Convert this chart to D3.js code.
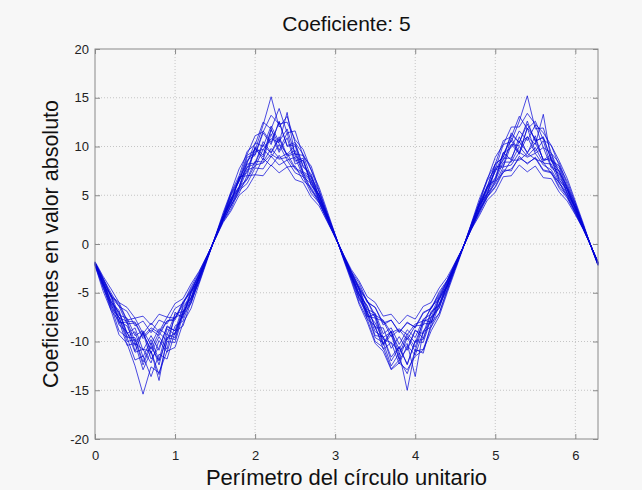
<!DOCTYPE html>
<html>
<head>
<meta charset="utf-8">
<script src="https://cdn.jsdelivr.net/npm/d3@7"></script>
<style>
  html, body { margin: 0; padding: 0; background: #f7f7f7; }
  svg { display: block; font-family: "Liberation Sans", Arial, sans-serif; }
</style>
</head>
<body>
<div id="chart"></div>
<script>
// x samples along the unit circle perimeter
const xs = [0.0, 0.1, 0.2, 0.3, 0.4, 0.5, 0.6, 0.7, 0.8, 0.9,
  1.0, 1.1, 1.2, 1.3, 1.4, 1.5, 1.6, 1.7, 1.8, 1.9,
  2.0, 2.1, 2.2, 2.3, 2.4, 2.5, 2.6, 2.7, 2.8, 2.9,
  3.0, 3.1, 3.2, 3.3, 3.4, 3.5, 3.6, 3.7, 3.8, 3.9,
  4.0, 4.1, 4.2, 4.3, 4.4, 4.5, 4.6, 4.7, 4.8, 4.9,
  5.0, 5.1, 5.2, 5.3, 5.4, 5.5, 5.6, 5.7, 5.8, 5.9,
  6.0, 6.1, 6.2, 6.2832];

const xTicks = [0, 1, 2, 3, 4, 5, 6];
const yTicks = [-20, -15, -10, -5, 0, 5, 10, 15, 20];

// one curve per realisation
const s1 = [-2.0, -4.2, -5.2, -8.1, -8.0, -11.0, -9.0, -11.2, -9.5, -10.8, -7.0, -7.6, -4.9, -3.6, -1.4, 0.6, 2.8, 4.1, 6.9, 7.0, 9.9, 8.6, 11.3, 9.4, 10.9, 8.2, 8.6, 6.0, 5.0, 2.7, 0.8, -1.2, -3.3, -4.6, -7.5, -7.2, -10.2, -8.9, -11.3, -9.4, -10.6, -7.8, -8.0, -5.5, -4.3, -2.1, -0.3, 1.8, 3.5, 6.0, 6.5, 9.4, 8.6, 11.0, 9.3, 11.1, 8.5, 8.9, 6.5, 5.6, 3.5, 1.7, -0.3, -2.0];
const s2 = [-2.1, -4.0, -6.6, -7.5, -10.0, -9.8, -12.4, -10.5, -12.0, -9.6, -9.8, -7.0, -6.0, -3.5, -1.5, 0.6, 2.7, 5.0, 6.4, 8.9, 9.2, 11.6, 10.4, 12.5, 10.1, 10.4, 8.0, 7.2, 4.8, 3.0, 0.8, -1.3, -3.2, -5.6, -7.0, -9.4, -9.5, -12.0, -10.6, -12.3, -10.0, -10.1, -7.6, -6.6, -4.2, -2.3, -0.3, 1.8, 4.1, 5.8, 8.2, 8.9, 11.4, 10.4, 12.6, 10.5, 11.0, 8.6, 7.8, 5.6, 3.8, 1.8, -0.3, -2.1];
const s3 = [-1.9, -3.6, -5.3, -6.0, -7.8, -7.6, -9.2, -8.1, -9.0, -7.5, -7.6, -5.9, -4.8, -3.1, -1.3, 0.6, 2.4, 4.0, 5.2, 7.0, 7.1, 8.8, 8.0, 9.1, 7.9, 8.0, 6.5, 5.8, 4.2, 2.6, 0.8, -1.1, -2.9, -4.3, -6.0, -6.5, -8.3, -7.8, -9.1, -8.0, -8.6, -7.1, -6.6, -5.1, -3.8, -2.1, -0.3, 1.6, 3.3, 4.9, 5.9, 7.6, 7.5, 9.0, 8.2, 8.9, 7.6, 7.4, 5.9, 4.9, 3.3, 1.6, -0.3, -1.9];
const s4 = [-2.2, -4.5, -6.4, -8.9, -9.6, -11.9, -11.5, -13.6, -11.3, -11.8, -9.0, -8.4, -5.9, -3.9, -1.6, 0.7, 3.0, 5.3, 7.0, 9.5, 10.2, 12.5, 11.8, 13.9, 11.4, 11.6, 9.0, 8.0, 5.5, 3.2, 0.9, -1.4, -3.6, -6.0, -7.7, -10.0, -10.6, -12.8, -11.9, -13.3, -11.0, -10.8, -8.5, -7.1, -4.8, -2.5, -0.3, 2.0, 4.3, 6.7, 8.2, 10.6, 11.0, 13.1, 11.8, 12.6, 10.7, 10.1, 8.0, 6.4, 4.2, 1.9, -0.3, -2.2];
const s5 = [-1.8, -3.3, -4.6, -6.0, -6.5, -7.6, -7.4, -8.3, -7.2, -7.5, -6.1, -5.6, -4.1, -2.8, -1.2, 0.5, 2.2, 3.4, 5.0, 5.7, 7.1, 7.0, 8.1, 7.3, 7.9, 6.6, 6.3, 4.8, 3.9, 2.3, 0.7, -1.0, -2.6, -3.8, -5.4, -6.0, -7.4, -7.2, -8.2, -7.3, -7.7, -6.4, -6.0, -4.5, -3.4, -1.9, -0.3, 1.5, 2.9, 4.5, 5.3, 6.9, 7.0, 8.1, 7.4, 8.0, 6.8, 6.7, 5.3, 4.4, 3.0, 1.5, -0.3, -1.8];
const s6 = [-2.0, -3.8, -6.2, -7.0, -9.5, -9.0, -11.6, -9.8, -11.9, -8.7, -9.3, -6.5, -5.6, -3.3, -1.5, 0.6, 2.7, 4.3, 6.8, 7.3, 10.0, 9.1, 11.8, 9.6, 11.4, 8.5, 8.8, 6.1, 5.1, 2.7, 0.8, -1.2, -3.4, -4.8, -7.4, -7.6, -10.4, -9.3, -11.8, -9.6, -11.0, -8.2, -8.1, -5.7, -4.4, -2.2, -0.3, 1.7, 4.0, 5.2, 7.9, 8.0, 10.9, 9.4, 11.9, 9.5, 10.6, 7.9, 7.5, 5.2, 3.8, 1.7, -0.3, -2.0];
const s7 = [-1.9, -3.9, -5.2, -7.3, -7.6, -9.4, -8.9, -10.3, -8.7, -9.3, -7.2, -6.9, -4.8, -3.3, -1.3, 0.6, 2.5, 4.3, 5.6, 7.6, 7.9, 9.7, 8.9, 10.2, 8.6, 8.9, 6.9, 6.2, 4.4, 2.7, 0.8, -1.1, -3.0, -4.5, -6.7, -7.1, -9.2, -8.6, -10.3, -8.8, -9.6, -7.7, -7.2, -5.4, -4.0, -2.1, -0.3, 1.6, 3.5, 5.1, 6.5, 8.4, 8.4, 10.0, 9.0, 9.9, 8.3, 8.2, 6.3, 5.2, 3.4, 1.6, -0.3, -1.9];
const s8 = [-2.1, -4.3, -6.8, -7.9, -10.4, -10.2, -12.9, -11.0, -13.4, -10.0, -10.1, -7.3, -6.1, -3.7, -1.5, 0.7, 2.9, 5.2, 6.7, 9.1, 9.6, 12.2, 15.1, 12.0, 13.1, 10.4, 9.2, 7.6, 5.3, 3.1, 0.9, -1.3, -3.5, -5.7, -7.2, -9.6, -10.1, -12.5, -11.2, -15.0, -10.8, -11.2, -8.1, -7.1, -4.6, -2.5, -0.3, 2.0, 4.2, 6.5, 7.7, 10.2, 10.5, 12.6, 15.2, 11.8, 11.9, 9.3, 8.3, 6.1, 4.1, 1.9, -0.3, -2.1];
const s9 = [-1.9, -3.5, -5.0, -6.4, -6.9, -8.4, -7.9, -9.1, -7.8, -8.2, -6.6, -6.1, -4.4, -2.9, -1.2, 0.5, 2.3, 3.6, 5.5, 6.2, 7.8, 7.7, 9.0, 8.1, 8.6, 7.3, 6.9, 5.2, 4.2, 2.4, 0.7, -1.0, -2.8, -4.0, -5.9, -6.5, -8.1, -7.8, -9.0, -8.1, -8.5, -7.0, -6.6, -4.9, -3.7, -1.9, -0.3, 1.5, 3.1, 4.8, 5.8, 7.4, 7.7, 8.8, 8.3, 8.8, 7.5, 7.3, 5.7, 4.7, 3.1, 1.5, -0.3, -1.9];
const s10 = [-2.0, -3.7, -6.0, -6.8, -9.2, -8.6, -10.9, -9.4, -10.9, -8.4, -8.9, -6.3, -5.5, -3.2, -1.4, 0.6, 2.5, 4.6, 5.8, 8.2, 8.3, 10.5, 9.4, 11.0, 9.1, 9.6, 7.3, 6.6, 4.5, 2.9, 0.8, -1.2, -3.0, -5.2, -6.3, -8.6, -8.6, -10.7, -9.5, -10.9, -8.9, -9.2, -6.9, -6.2, -3.9, -2.3, -0.3, 1.7, 3.9, 5.1, 7.6, 7.9, 10.2, 9.3, 11.0, 9.3, 9.9, 7.8, 7.2, 5.1, 3.7, 1.7, -0.3, -2.0];
const s11 = [-2.2, -4.8, -6.8, -9.3, -10.2, -12.5, -15.4, -12.6, -13.2, -11.0, -10.6, -8.1, -6.6, -4.1, -1.7, 0.7, 3.2, 5.4, 7.7, 9.2, 11.1, 11.5, 13.2, 12.3, 12.5, 10.7, 9.7, 7.6, 5.8, 3.4, 1.0, -1.5, -3.8, -6.2, -8.0, -10.2, -11.0, -12.9, -12.2, -12.9, -11.5, -10.9, -8.9, -7.4, -5.0, -2.7, -0.4, 2.1, 4.6, 6.6, 8.9, 10.2, 12.0, 12.0, 13.4, 12.3, 11.4, 10.1, 8.5, 6.7, 4.4, 2.1, -0.4, -2.2];
const s12 = [-1.9, -3.6, -5.4, -6.4, -8.2, -8.1, -9.7, -8.8, -9.4, -7.9, -7.8, -6.0, -4.9, -3.1, -1.3, 0.6, 2.4, 3.9, 5.8, 6.7, 8.5, 8.4, 9.8, 8.8, 9.3, 7.8, 7.3, 5.6, 4.5, 2.5, 0.7, -1.1, -2.8, -4.7, -5.8, -7.6, -7.9, -9.5, -8.8, -9.8, -8.4, -8.3, -6.4, -5.7, -3.7, -2.1, -0.3, 1.6, 3.3, 5.1, 6.2, 7.9, 8.1, 9.4, 8.9, 9.3, 8.1, 7.6, 6.2, 5.0, 3.2, 1.6, -0.3, -1.9];
const s13 = [-2.1, -4.1, -6.3, -7.5, -9.6, -9.6, -12.1, -10.2, -12.4, -9.3, -9.6, -6.9, -5.8, -3.5, -1.5, 0.6, 2.8, 4.7, 6.5, 8.6, 9.1, 11.4, 10.2, 12.6, 10.0, 10.2, 7.9, 7.0, 4.9, 3.0, 0.9, -1.3, -3.3, -5.5, -6.9, -9.0, -9.5, -11.6, -10.5, -12.4, -9.9, -9.8, -7.5, -6.5, -4.3, -2.4, -0.3, 1.8, 4.0, 5.8, 7.4, 9.3, 9.9, 11.6, 10.6, 12.2, 9.9, 9.3, 7.3, 5.9, 3.9, 1.8, -0.3, -2.1];
const s14 = [-2.0, -4.0, -5.5, -7.6, -7.9, -10.0, -9.2, -10.8, -9.1, -9.9, -7.5, -7.2, -5.0, -3.5, -1.4, 0.6, 2.6, 4.4, 5.8, 7.9, 8.2, 10.2, 9.3, 10.8, 9.0, 9.3, 7.2, 6.4, 4.6, 2.8, 0.8, -1.2, -3.1, -4.6, -6.9, -7.4, -9.6, -9.0, -10.8, -9.2, -10.1, -8.0, -7.5, -5.6, -4.2, -2.2, -0.3, 1.7, 3.6, 5.4, 6.7, 8.8, 8.8, 10.5, 9.4, 10.4, 8.7, 8.6, 6.6, 5.4, 3.6, 1.7, -0.3, -2.0];
const s15 = [-2.0, -4.0, -5.9, -7.0, -9.1, -10.4, -9.1, -11.8, -10.6, -8.5, -8.9, -7.3, -5.1, -3.5, -1.4, 0.6, 2.7, 4.7, 5.9, 8.4, 9.8, 8.9, 11.7, 10.3, 9.2, 10.1, 7.4, 6.9, 4.6, 2.9, 0.8, -1.2, -3.2, -5.2, -6.4, -8.6, -10.3, -9.0, -11.9, -10.7, -8.8, -9.7, -7.0, -6.3, -4.1, -2.3, -0.3, 1.7, 3.8, 5.7, 6.8, 9.3, 10.6, 9.2, 11.9, 10.8, 8.6, 9.2, 6.8, 5.7, 3.6, 1.7, -0.3, -2.0];
const s16 = [-2.1, -4.4, -6.1, -8.3, -9.0, -11.1, -10.8, -12.2, -9.9, -11.1, -8.4, -7.9, -5.6, -3.9, -1.5, 0.7, 2.8, 5.1, 6.6, 8.3, 10.4, 10.0, 12.1, 10.5, 11.8, 9.2, 9.1, 6.8, 5.4, 3.0, 0.9, -1.3, -3.5, -5.2, -7.7, -8.4, -10.8, -10.1, -12.3, -10.4, -11.4, -9.0, -8.5, -6.2, -4.7, -2.4, -0.3, 1.9, 4.2, 5.9, 8.2, 8.9, 11.2, 10.4, 12.3, 10.6, 10.9, 8.6, 8.0, 5.8, 4.1, 1.9, -0.3, -2.1];
const s17 = [-1.9, -3.5, -5.3, -6.2, -7.9, -8.0, -9.5, -8.6, -9.1, -7.9, -7.6, -6.2, -4.6, -3.1, -1.3, 0.5, 2.4, 3.9, 5.6, 6.6, 8.1, 8.3, 9.2, 8.7, 8.9, 7.7, 7.1, 5.5, 4.3, 2.5, 0.7, -1.1, -2.8, -4.5, -5.8, -7.3, -7.8, -9.1, -8.7, -9.3, -8.2, -7.9, -6.6, -5.3, -3.8, -2.0, -0.3, 1.5, 3.4, 4.8, 6.4, 7.3, 8.6, 8.6, 9.3, 8.7, 8.4, 7.2, 6.3, 4.8, 3.3, 1.5, -0.3, -1.9];
const s18 = [-2.0, -4.1, -5.8, -7.9, -8.4, -10.2, -10.8, -11.0, -14.0, -9.6, -9.2, -7.0, -5.5, -3.5, -1.4, 0.6, 2.8, 4.5, 6.5, 7.8, 9.5, 9.7, 10.8, 10.4, 13.5, 9.0, 8.5, 6.5, 5.0, 2.9, 0.8, -1.3, -3.2, -5.1, -7.1, -8.1, -9.8, -10.1, -11.0, -10.2, -13.6, -8.9, -8.0, -6.1, -4.4, -2.3, -0.3, 1.8, 3.9, 5.6, 7.6, 8.6, 10.2, 10.1, 11.0, 10.2, 13.3, 8.5, 7.5, 5.6, 3.8, 1.8, -0.3, -2.0];

const series = [s1, s2, s3, s4, s5, s6, s7, s8, s9, s10, s11, s12, s13, s14, s15, s16, s17, s18];

const width = 642, height = 490;
const margin = { top: 49, right: 44, bottom: 51, left: 95 };

const svg = d3.select("#chart").append("svg")
  .attr("width", width)
  .attr("height", height);

svg.append("rect")
  .attr("width", width).attr("height", height)
  .attr("fill", "#f7f7f7");

const x = d3.scaleLinear()
  .domain([0, 2 * Math.PI])
  .range([margin.left, width - margin.right]);

const y = d3.scaleLinear()
  .domain([-20, 20])
  .range([height - margin.bottom, margin.top]);

// dotted grid
svg.append("g")
  .selectAll("line")
  .data(xTicks.filter(d => d > 0))
  .join("line")
    .attr("x1", d => x(d)).attr("x2", d => x(d))
    .attr("y1", y(-20)).attr("y2", y(20))
    .attr("stroke", "#b8b8b8")
    .attr("stroke-width", 0.8)
    .attr("stroke-dasharray", "1,2");

svg.append("g")
  .selectAll("line")
  .data(yTicks.filter(d => d > -20 && d < 20))
  .join("line")
    .attr("x1", x(0)).attr("x2", x(2 * Math.PI))
    .attr("y1", d => y(d)).attr("y2", d => y(d))
    .attr("stroke", "#b8b8b8")
    .attr("stroke-width", 0.8)
    .attr("stroke-dasharray", "1,2");

// curves
const line = d3.line()
  .x((d, i) => x(xs[i]))
  .y(d => y(d));

svg.append("g")
  .selectAll("path")
  .data(series)
  .join("path")
    .attr("d", line)
    .attr("fill", "none")
    .attr("stroke", "#0606d8")
    .attr("stroke-width", 0.8)
    .attr("stroke-opacity", 0.9);

// axes (ticks pointing inward, matlab style)
const axisColor = "#8a8a8a";
const fmt = d => String(d);

const styleAxis = g => {
  g.select(".domain").remove();
  g.selectAll(".tick line").attr("stroke", axisColor);
  g.selectAll(".tick text")
    .attr("fill", "#222")
    .attr("font-size", 13);
};

svg.append("g")
  .attr("transform", `translate(0,${y(-20)})`)
  .call(d3.axisBottom(x).tickValues(xTicks).tickFormat(fmt).tickSizeInner(-5).tickPadding(12))
  .call(styleAxis);

svg.append("g")
  .attr("transform", `translate(0,${y(20)})`)
  .call(d3.axisTop(x).tickValues(xTicks).tickSizeInner(-5).tickFormat(""))
  .call(styleAxis);

svg.append("g")
  .attr("transform", `translate(${x(0)},0)`)
  .call(d3.axisLeft(y).tickValues(yTicks).tickFormat(fmt).tickSizeInner(-5).tickPadding(6))
  .call(styleAxis);

svg.append("g")
  .attr("transform", `translate(${x(2 * Math.PI)},0)`)
  .call(d3.axisRight(y).tickValues(yTicks).tickSizeInner(-5).tickFormat(""))
  .call(styleAxis);

// box
svg.append("rect")
  .attr("x", x(0)).attr("y", y(20))
  .attr("width", x(2 * Math.PI) - x(0))
  .attr("height", y(-20) - y(20))
  .attr("fill", "none")
  .attr("stroke", axisColor)
  .attr("stroke-width", 1);

// labels
svg.append("text")
  .attr("x", (x(0) + x(2 * Math.PI)) / 2)
  .attr("y", 31)
  .attr("text-anchor", "middle")
  .attr("font-size", 21)
  .attr("fill", "#111")
  .text("Coeficiente: 5");

svg.append("text")
  .attr("x", (x(0) + x(2 * Math.PI)) / 2)
  .attr("y", 485)
  .attr("text-anchor", "middle")
  .attr("font-size", 22)
  .attr("fill", "#111")
  .text("Perímetro del círculo unitario");

svg.append("text")
  .attr("transform", `translate(58,${(y(20) + y(-20)) / 2}) rotate(-90)`)
  .attr("text-anchor", "middle")
  .attr("font-size", 21.5)
  .attr("fill", "#111")
  .text("Coeficientes en valor absoluto");
</script>
</body>
</html>
